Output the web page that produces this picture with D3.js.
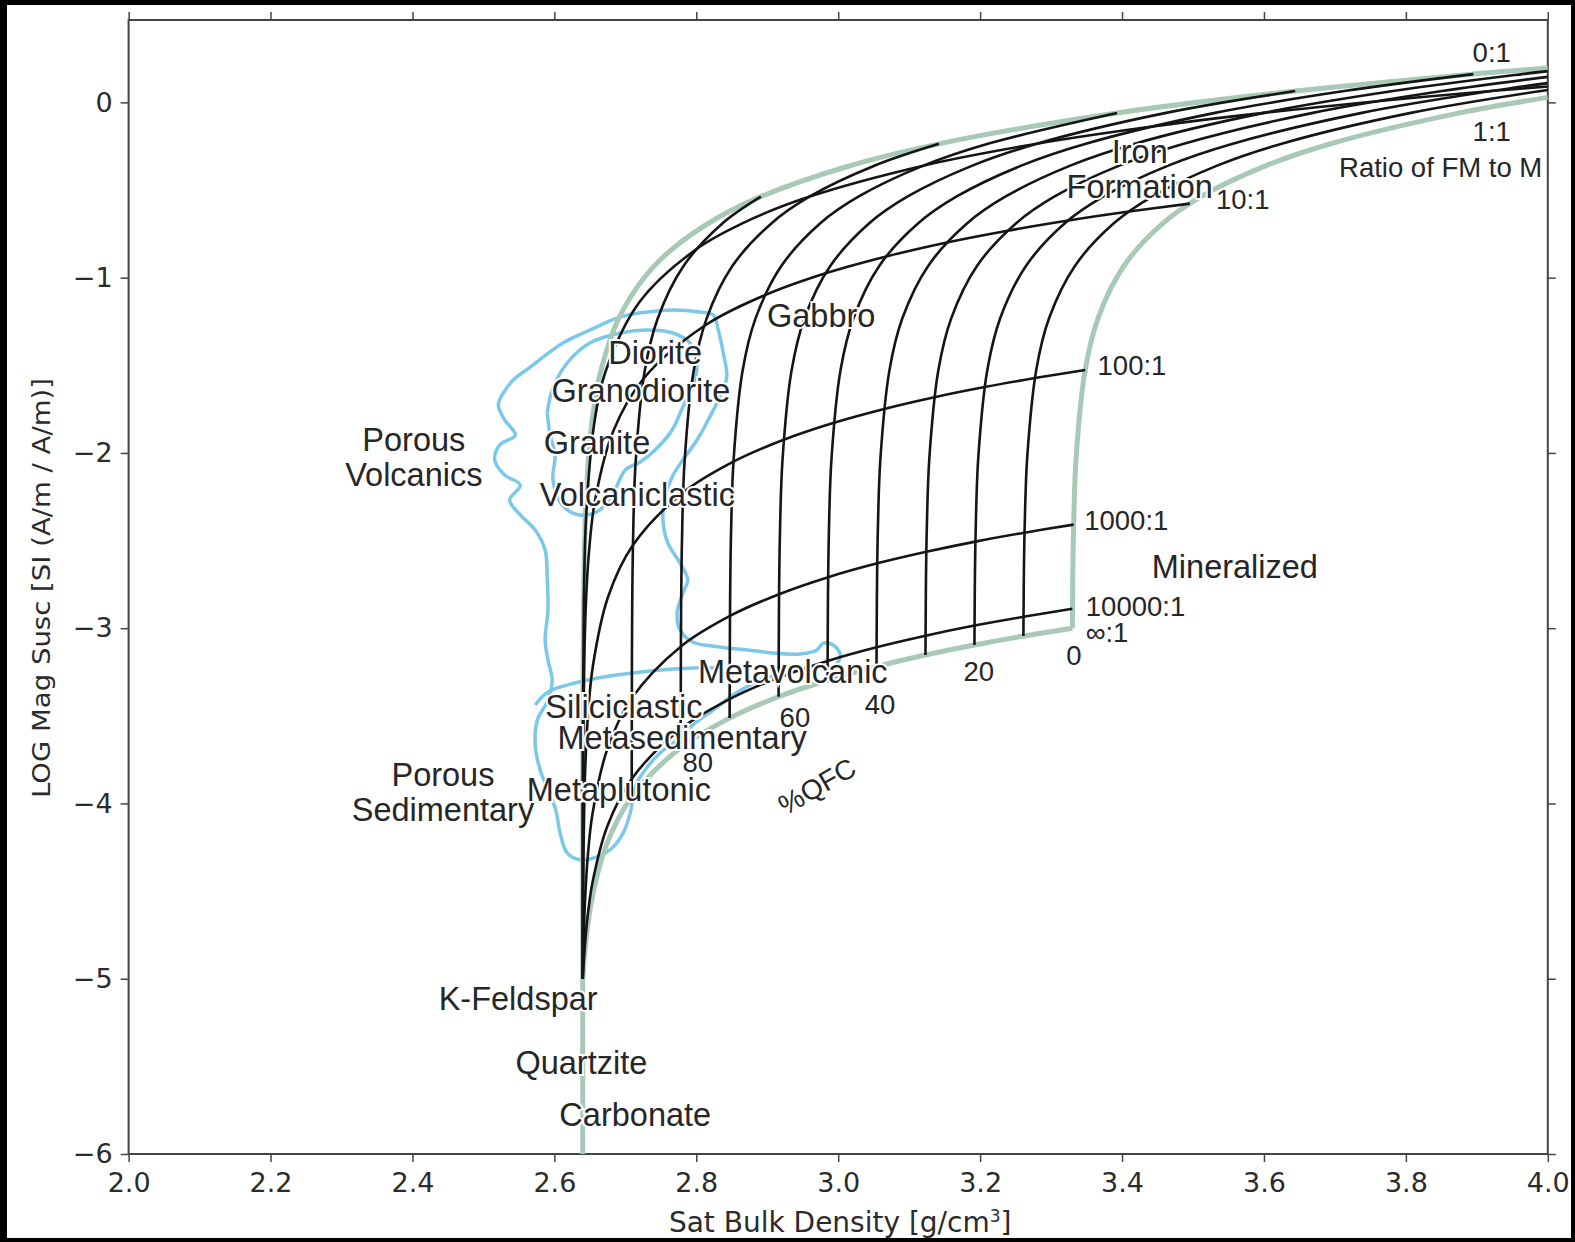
<!DOCTYPE html>
<html>
<head>
<meta charset="utf-8">
<script src="https://cdn.jsdelivr.net/npm/d3@7"></script>
<style>
  html, body { margin: 0; padding: 0; background: #000; }
  svg { display: block; }
</style>
</head>
<body>
<div class="container"></div>
<script>
const w = 1575;
const h = 1242;

// axis ticks
const xTicks = [2.0, 2.2, 2.4, 2.6, 2.8, 3.0, 3.2, 3.4, 3.6, 3.8, 4.0];
const yTicks = [-6, -5, -4, -3, -2, -1, 0];

// envelope (green): FM only (0:1), no FM (inf:1), no QFC (0 %)
const env01 = [[2.64,-6],[2.64,-5],[2.64003,-4.409],[2.64025,-3.523],[2.6425,-2.536],[2.6475,-2.06],[2.6551,-1.759],[2.6651,-1.537],[2.6902,-1.2365],[2.7279,-0.9935],[2.7655,-0.8386],[2.8283,-0.6625],[2.891,-0.5376],[3.0165,-0.3615],[3.142,-0.2366],[3.393,-0.0605],[3.644,0.0645],[3.895,0.1614],[4.0,0.1963]];
const envInf = [[2.64,-5],[2.6414,-4.9215],[2.64345,-4.825],[2.6469,-4.701],[2.6538,-4.526],[2.6745,-4.225],[2.709,-3.963],[2.778,-3.682],[2.847,-3.513],[2.916,-3.391],[2.985,-3.297],[3.054,-3.219],[3.123,-3.153],[3.192,-3.096],[3.261,-3.045],[3.33,-3.0]];
const envQfc0 = [[3.33,-3.0],[3.3302,-2.889],[3.3305,-2.728],[3.3318,-2.409],[3.3355,-2.013],[3.3482,-1.523],[3.3664,-1.229],[3.4028,-0.932],[3.4574,-0.69],[3.512,-0.536],[3.603,-0.361],[3.694,-0.236],[3.876,-0.06],[4.0,0.0286]];

// ratio lines (black)
const ratio10000 = [[2.64,-5],[2.6414,-4.901],[2.6435,-4.785],[2.6469,-4.642],[2.6538,-4.449],[2.6745,-4.131],[2.709,-3.86],[2.778,-3.575],[2.847,-3.405],[2.916,-3.282],[2.985,-3.187],[3.054,-3.109],[3.123,-3.043],[3.192,-2.985],[3.261,-2.935],[3.33,-2.889]];
const ratio1000 = [[2.64,-5],[2.6414,-4.75],[2.6435,-4.531],[2.6469,-4.311],[2.6538,-4.057],[2.6746,-3.69],[2.7092,-3.399],[2.7784,-3.104],[2.8475,-2.93],[2.9167,-2.806],[2.9859,-2.709],[3.0551,-2.63],[3.1243,-2.564],[3.1934,-2.506],[3.2626,-2.455],[3.3318,-2.409]];
const ratio100 = [[2.64,-5],[2.6401,-4.797],[2.64035,-4.605],[2.6407,-4.401],[2.6414,-4.159],[2.6435,-3.8],[2.6471,-3.513],[2.6542,-3.219],[2.6754,-2.825],[2.7108,-2.526],[2.7816,-2.226],[2.8524,-2.05],[2.9232,-1.925],[2.994,-1.828],[3.0648,-1.749],[3.1356,-1.682],[3.2064,-1.624],[3.2772,-1.573],[3.348,-1.527]];
const ratio10 = [[2.64,-5],[2.64002,-4.816],[2.64009,-4.438],[2.64026,-4.049],[2.64086,-3.561],[2.64171,-3.268],[2.64428,-2.875],[2.64856,-2.576],[2.65711,-2.276],[2.68278,-1.878],[2.72555,-1.577],[2.8111,-1.276],[2.8967,-1.1],[2.9822,-0.975],[3.0678,-0.879],[3.1533,-0.799],[3.2389,-0.732],[3.3244,-0.674],[3.41,-0.623],[3.4955,-0.5775]];
const ratio1 = [[2.64,-5],[2.64002,-4.611],[2.64016,-3.824],[2.6416,-2.836],[2.6448,-2.361],[2.656,-1.838],[2.672,-1.537],[2.72,-1.139],[2.8,-0.838],[2.88,-0.662],[2.96,-0.537],[3.12,-0.361],[3.28,-0.236],[3.44,-0.1395],[3.6,-0.06],[3.76,0.0066],[3.92,0.0646],[4.0,0.091]];

// constant %QFC lines (black)
const qfc90 = [[2.709,-3.963],[2.7092,-3.399],[2.7095,-3.009],[2.7108,-2.522],[2.7145,-2.055],[2.7272,-1.536],[2.7454,-1.236],[2.7818,-0.935],[2.8364,-0.692],[2.891,-0.538]];
const qfc80 = [[2.778,-3.682],[2.7782,-3.303],[2.7785,-2.967],[2.7798,-2.508],[2.7835,-2.05],[2.7962,-1.535],[2.8144,-1.235],[2.8508,-0.934],[2.9054,-0.692],[2.96,-0.537],[3.051,-0.3615],[3.142,-0.2366]];
const qfc70 = [[2.847,-3.513],[2.8472,-3.224],[2.8475,-2.929],[2.8488,-2.494],[2.8525,-2.046],[2.8652,-1.533],[2.8834,-1.234],[2.9198,-0.934],[2.9744,-0.691],[3.029,-0.537],[3.12,-0.361],[3.211,-0.236],[3.393,-0.0605]];
const qfc60 = [[2.916,-3.391],[2.9162,-3.157],[2.9165,-2.894],[2.9178,-2.481],[2.9215,-2.041],[2.9342,-1.532],[2.9524,-1.233],[2.9888,-0.934],[3.0434,-0.691],[3.098,-0.537],[3.189,-0.361],[3.28,-0.236],[3.462,-0.06],[3.644,0.0645]];
const qfc50 = [[2.985,-3.297],[2.9852,-3.1],[2.9855,-2.862],[2.9868,-2.468],[2.9905,-2.036],[3.0032,-1.53],[3.0214,-1.233],[3.0578,-0.933],[3.1124,-0.691],[3.167,-0.537],[3.258,-0.361],[3.349,-0.236],[3.531,-0.06],[3.713,0.0645],[3.895,0.1614]];
const qfc40 = [[3.054,-3.219],[3.0542,-3.049],[3.0545,-2.831],[3.0558,-2.456],[3.0595,-2.031],[3.0722,-1.529],[3.0904,-1.232],[3.1268,-0.933],[3.1814,-0.691],[3.236,-0.537],[3.327,-0.361],[3.418,-0.236],[3.6,-0.06],[3.782,0.0645],[3.964,0.1614],[4.0,0.1783]];
const qfc30 = [[3.123,-3.153],[3.1232,-3.003],[3.1235,-2.803],[3.1248,-2.443],[3.1285,-2.027],[3.1412,-1.527],[3.1594,-1.231],[3.1958,-0.932],[3.2504,-0.691],[3.305,-0.537],[3.396,-0.361],[3.487,-0.236],[3.669,-0.06],[3.851,0.0645],[4.0,0.1454]];
const qfc20 = [[3.192,-3.096],[3.1922,-2.962],[3.1925,-2.777],[3.1938,-2.432],[3.1975,-2.022],[3.2102,-1.526],[3.2284,-1.23],[3.2648,-0.932],[3.3194,-0.69],[3.374,-0.537],[3.465,-0.361],[3.556,-0.236],[3.738,-0.06],[3.92,0.0645],[4.0,0.1099]];
const qfc10 = [[3.261,-3.045],[3.2612,-2.924],[3.2615,-2.752],[3.2628,-2.42],[3.2665,-2.018],[3.2792,-1.524],[3.2974,-1.229],[3.3338,-0.932],[3.3884,-0.69],[3.443,-0.536],[3.534,-0.361],[3.625,-0.236],[3.807,-0.06],[4.0,0.0711]];

// rock-type contours (blue)
const contourOuter = [[2.528,-1.658],[2.542,-1.584],[2.566,-1.51],[2.612,-1.373],[2.65,-1.299],[2.693,-1.224],[2.731,-1.196],[2.767,-1.184],[2.805,-1.196],[2.824,-1.213],[2.831,-1.299],[2.838,-1.43],[2.843,-1.567],[2.833,-1.681],[2.819,-1.795],[2.801,-1.926],[2.781,-2.04],[2.766,-2.137],[2.756,-2.251],[2.753,-2.383],[2.76,-2.515],[2.777,-2.628],[2.788,-2.725],[2.781,-2.799],[2.773,-2.913],[2.777,-3.01],[2.795,-3.079],[2.833,-3.107],[2.872,-3.124],[2.908,-3.141],[2.946,-3.147],[2.97,-3.124],[2.979,-3.085],[2.993,-3.096],[3.003,-3.153],[2.996,-3.21],[2.965,-3.227],[2.932,-3.25],[2.89,-3.296],[2.852,-3.381],[2.824,-3.467],[2.795,-3.552],[2.773,-3.638],[2.749,-3.712],[2.731,-3.792],[2.717,-3.878],[2.711,-3.963],[2.707,-4.054],[2.697,-4.168],[2.683,-4.248],[2.66,-4.305],[2.636,-4.322],[2.618,-4.282],[2.608,-4.168],[2.602,-4.037],[2.591,-3.923],[2.58,-3.809],[2.573,-3.666],[2.576,-3.524],[2.591,-3.41],[2.597,-3.296],[2.591,-3.182],[2.587,-3.068],[2.591,-2.896],[2.59,-2.725],[2.587,-2.554],[2.573,-2.44],[2.552,-2.354],[2.537,-2.269],[2.552,-2.183],[2.53,-2.126],[2.516,-2.04],[2.523,-1.955],[2.545,-1.898],[2.53,-1.812],[2.521,-1.727]];
const contourInner = [[2.59,-1.772],[2.597,-1.641],[2.618,-1.487],[2.65,-1.373],[2.693,-1.316],[2.731,-1.299],[2.767,-1.316],[2.791,-1.373],[2.801,-1.487],[2.795,-1.624],[2.781,-1.738],[2.766,-1.869],[2.742,-1.983],[2.721,-2.052],[2.7,-2.097],[2.685,-2.211],[2.664,-2.326],[2.636,-2.354],[2.611,-2.297],[2.598,-2.154],[2.601,-2.011],[2.594,-1.897]];
const contourSed = [[2.573,-3.438],[2.591,-3.364],[2.629,-3.313],[2.678,-3.273],[2.735,-3.244],[2.795,-3.227],[2.833,-3.227]];

// text annotations, anchored at [density, log susc]
const bigLabels = [
  ['Iron', 3.425, -0.277], ['Formation', 3.425, -0.477], ['Gabbro', 2.976, -1.213],
  ['Diorite', 2.742, -1.424], ['Granodiorite', 2.722, -1.641], ['Porous', 2.402, -1.921],
  ['Volcanics', 2.402, -2.12], ['Granite', 2.66, -1.938], ['Volcaniclastic', 2.717, -2.234],
  ['Mineralized', 3.559, -2.645], ['Metavolcanic', 2.936, -3.244], ['Siliciclastic', 2.698, -3.444],
  ['Metasedimentary', 2.78, -3.62], ['Porous', 2.443, -3.832], ['Sedimentary', 2.443, -4.031],
  ['Metaplutonic', 2.691, -3.917], ['K-Feldspar', 2.549, -5.11], ['Quartzite', 2.638, -5.475],
  ['Carbonate', 2.714, -5.772]
];
const smallLabels = [
  ['0:1', 3.921, 0.288], ['1:1', 3.921, -0.163], ['Ratio of FM to M', 3.849, -0.369],
  ['10:1', 3.57, -0.551], ['100:1', 3.414, -1.498], ['1000:1', 3.406, -2.383],
  ['10000:1', 3.419, -2.873], ['\u221e:1', 3.379, -3.022], ['0', 3.332, -3.153],
  ['20', 3.198, -3.244], ['40', 3.059, -3.432], ['60', 2.939, -3.507], ['80', 2.802, -3.763]
];

let svg = null;
let x = null;
let y = null;

window.onload = function () {
  setSvg();
  drawAxes();
  drawCurves();
  drawLabels();
};

function setSvg() {
  svg = d3.select('.container').append('svg').attr('width', w).attr('height', h);
  svg.append('rect').attr('width', w).attr('height', h).attr('fill', '#000');
  svg.append('rect').attr('x', 7).attr('y', 5).attr('width', 1564).attr('height', 1233).attr('fill', '#fff');

  x = d3.scaleLinear().domain([2, 4]).range([128.6, 1547.8]);
  y = d3.scaleLinear().domain([-6, 0.47]).range([1154, 20]);

  svg.append('clipPath').attr('id', 'plot')
    .append('rect')
    .attr('x', x(2)).attr('y', y(0.47))
    .attr('width', x(4) - x(2)).attr('height', y(-6) - y(0.47));
}

function drawAxes() {
  const tickStyle = (g) => {
    g.selectAll('.domain').remove();
    g.selectAll('.tick line').attr('stroke', '#444').attr('stroke-width', 1.5);
    g.selectAll('.tick text')
      .attr('font-family', 'DejaVu Sans')
      .attr('font-size', 27)
      .attr('fill', '#2b2b2b');
  };

  svg.append('g')
    .attr('transform', `translate(0,${y(-6)})`)
    .call(d3.axisBottom(x).tickValues(xTicks).tickFormat(d3.format('.1f')).tickSize(8).tickPadding(11))
    .call(tickStyle);
  svg.append('g')
    .attr('transform', `translate(0,${y(0.47)})`)
    .call(d3.axisTop(x).tickValues(xTicks).tickFormat('').tickSize(8))
    .call(tickStyle);
  svg.append('g')
    .attr('transform', `translate(${x(2)},0)`)
    .call(d3.axisLeft(y).tickValues(yTicks).tickFormat(d3.format('d')).tickSize(8).tickPadding(8))
    .call(tickStyle);
  svg.append('g')
    .attr('transform', `translate(${x(4)},0)`)
    .call(d3.axisRight(y).tickValues(yTicks).tickFormat('').tickSize(8))
    .call(tickStyle);

  svg.append('rect')
    .attr('x', x(2)).attr('y', y(0.47))
    .attr('width', x(4) - x(2)).attr('height', y(-6) - y(0.47))
    .attr('fill', 'none').attr('stroke', '#444').attr('stroke-width', 2);

  svg.append('text')
    .attr('x', (x(2) + x(4)) / 2 + 2)
    .attr('y', 1232)
    .attr('text-anchor', 'middle')
    .attr('font-family', 'DejaVu Sans')
    .attr('font-size', 28)
    .attr('fill', '#2b2b2b')
    .html('Sat Bulk Density [g/cm<tspan baseline-shift="super" font-size="17">3</tspan>]');

  svg.append('text')
    .attr('transform', `translate(50,588) rotate(-90)`)
    .attr('text-anchor', 'middle')
    .attr('font-family', 'DejaVu Sans')
    .attr('font-size', 25)
    .attr('textLength', 420)
    .attr('lengthAdjust', 'spacingAndGlyphs')
    .attr('fill', '#2b2b2b')
    .text('LOG Mag Susc [SI (A/m / A/m)]');
}

function drawCurves() {
  const line = d3.line()
    .x((d) => x(d[0]))
    .y((d) => y(d[1]))
    .curve(d3.curveCatmullRom.alpha(0.5));

  const plot = svg.append('g').attr('clip-path', 'url(#plot)');

  plot.selectAll('path.contour')
    .data([contourOuter, contourInner])
    .enter()
    .append('path')
    .attr('class', 'contour')
    .attr('d', (d) => line(d.concat([d[0]])))
    .attr('fill', 'none')
    .attr('stroke', '#7cc8ea')
    .attr('stroke-width', 3.5);

  plot.append('path')
    .attr('d', line(contourSed))
    .attr('fill', 'none')
    .attr('stroke', '#7cc8ea')
    .attr('stroke-width', 3.5);

  plot.selectAll('path.env')
    .data([env01, envInf, envQfc0])
    .enter()
    .append('path')
    .attr('class', 'env')
    .attr('d', line)
    .attr('fill', 'none')
    .attr('stroke', '#a9c9b7')
    .attr('stroke-width', 5);

  const blackLines = [ratio10000, ratio1000, ratio100, ratio10, ratio1,
    qfc90, qfc80, qfc70, qfc60, qfc50, qfc40, qfc30, qfc20, qfc10];
  plot.selectAll('path.grid')
    .data(blackLines)
    .enter()
    .append('path')
    .attr('class', 'grid')
    .attr('d', line)
    .attr('fill', 'none')
    .attr('stroke', '#151515')
    .attr('stroke-width', 2.6);
}

function drawLabels() {
  const put = (list, size) => {
    svg.append('g')
      .selectAll('text')
      .data(list)
      .enter()
      .append('text')
      .attr('x', (d) => x(d[1]))
      .attr('y', (d) => y(d[2]))
      .attr('dy', '0.36em')
      .attr('text-anchor', 'middle')
      .attr('font-family', 'Liberation Sans, Arial, sans-serif')
      .attr('font-size', size)
      .attr('fill', '#262626')
      .attr('stroke', '#fff')
      .attr('stroke-width', 4)
      .attr('paint-order', 'stroke')
      .text((d) => d[0]);
  };
  put(bigLabels, 32.5);
  put(smallLabels, 27.5);

  svg.append('text')
    .attr('transform', `translate(${x(2.97)},${y(-3.9)}) rotate(-30)`)
    .attr('dy', '0.36em')
    .attr('text-anchor', 'middle')
    .attr('font-family', 'Liberation Sans, Arial, sans-serif')
    .attr('font-size', 28)
    .attr('fill', '#262626')
    .text('%QFC');
}
</script>
</body>
</html>
